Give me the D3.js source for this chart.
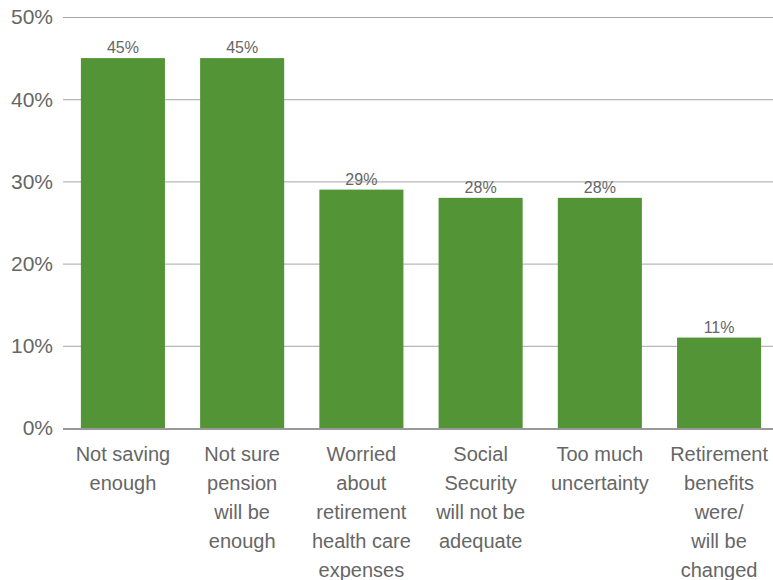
<!DOCTYPE html>
<html>
<head>
<meta charset="utf-8">
<script src="https://cdn.jsdelivr.net/npm/d3@7"></script>
<style>
  body { margin: 0; background: #fff; }
  text { font-family: "Liberation Sans Narrow", "Liberation Sans", sans-serif; fill: #666; }
</style>
</head>
<body>
<svg id="chart" width="773" height="580"></svg>
<script>
// chart data
var categories = [
  ["Not saving", "enough"],
  ["Not sure", "pension", "will be", "enough"],
  ["Worried", "about", "retirement", "health care", "expenses"],
  ["Social", "Security", "will not be", "adequate"],
  ["Too much", "uncertainty"],
  ["Retirement", "benefits", "were/", "will be", "changed"]
];
var values = [45, 45, 29, 28, 28, 11];
var yTicks = [0, 10, 20, 30, 40, 50];

var svg = d3.select("#chart"),
  plotLeft = 63,
  plotTop = 17,
  plotBottom = 428;

var x = d3
  .scaleBand()
  .domain(d3.range(values.length))
  .range([plotLeft, 779])
  .paddingInner(0.295)
  .paddingOuter(0.15);

var y = d3.scaleLinear().domain([0, 50]).range([plotBottom, plotTop]);

// gridlines
svg
  .selectAll(".grid")
  .data(yTicks.filter((d) => d > 0))
  .enter()
  .append("line")
  .attr("x1", plotLeft)
  .attr("x2", 773)
  .attr("y1", (d) => y(d) + 0.5)
  .attr("y2", (d) => y(d) + 0.5)
  .attr("stroke", "#a6a6a6")
  .attr("stroke-width", 1);

// tick labels
svg
  .selectAll(".ytick")
  .data(yTicks)
  .enter()
  .append("text")
  .attr("x", 53)
  .attr("y", (d) => y(d))
  .attr("dy", "0.35em")
  .attr("text-anchor", "end")
  .style("font-size", "21px")
  .text((d) => d + "%");

// bars
svg
  .selectAll(".bar")
  .data(values)
  .enter()
  .append("rect")
  .attr("x", (d, i) => x(i))
  .attr("y", (d) => y(d))
  .attr("width", x.bandwidth())
  .attr("height", (d) => plotBottom - y(d))
  .attr("fill", "#539436");

// baseline
svg
  .append("line")
  .attr("x1", plotLeft)
  .attr("x2", 773)
  .attr("y1", plotBottom + 1)
  .attr("y2", plotBottom + 1)
  .attr("stroke", "#999")
  .attr("stroke-width", 2);

// value labels
svg
  .selectAll(".val")
  .data(values)
  .enter()
  .append("text")
  .attr("x", (d, i) => x(i) + x.bandwidth() / 2)
  .attr("y", (d) => y(d) - 5)
  .attr("text-anchor", "middle")
  .style("font-size", "16px")
  .text((d) => d + "%");

// category labels
var cat = svg
  .selectAll(".cat")
  .data(categories)
  .enter()
  .append("text")
  .attr("text-anchor", "middle")
  .style("font-size", "20px");

cat
  .selectAll("tspan")
  .data((d, i) => d.map((line) => ({ line: line, i: i })))
  .enter()
  .append("tspan")
  .attr("x", (d) => x(d.i) + x.bandwidth() / 2)
  .attr("y", (d, j) => 461 + j * 29)
  .text((d) => d.line);
</script>
</body>
</html>
